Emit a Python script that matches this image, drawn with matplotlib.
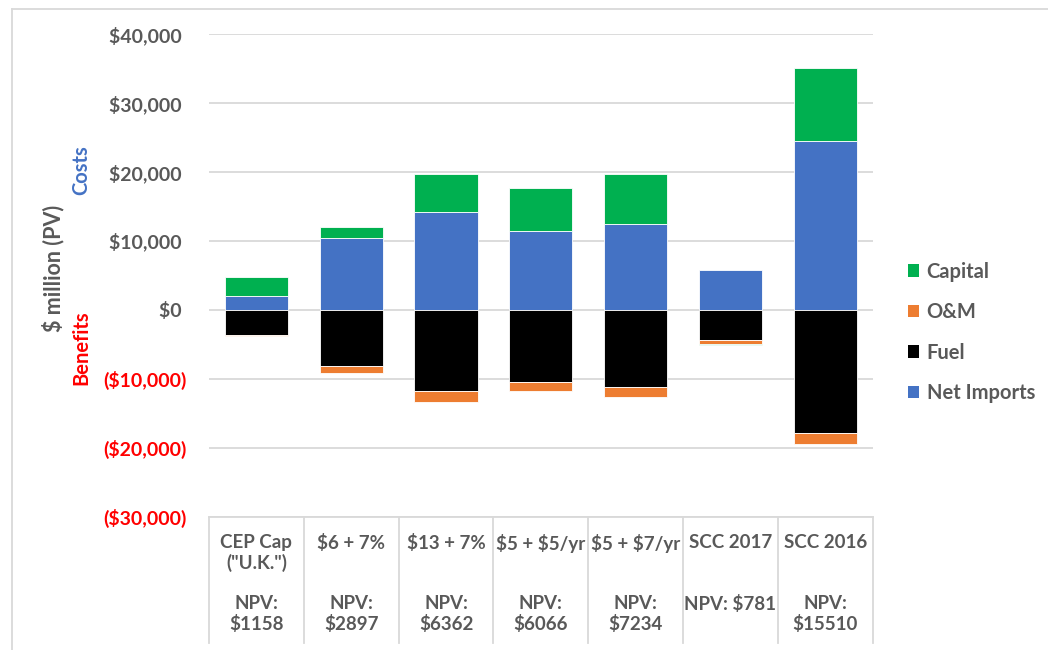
import matplotlib
matplotlib.use("Agg")
import matplotlib.pyplot as plt
import numpy as np
from matplotlib.patches import Patch
from matplotlib.lines import Line2D

plt.rcParams['font.family'] = ['Lato', 'DejaVu Sans']

# Scenarios (top label, NPV label)
scenarios = ['CEP Cap\n("U.K.")', '$6 + 7%', '$13 + 7%', '$5 + $5/yr',
             '$5 + $7/yr', 'SCC 2017', 'SCC 2016']
npv_labels = ['NPV:\n$1158', 'NPV:\n$2897', 'NPV:\n$6362', 'NPV:\n$6066',
              'NPV:\n$7234', 'NPV: $781', 'NPV:\n$15510']

# Present-value components, $ million
net_imports = [2000, 10350, 14200, 11500, 12380, 5750, 24500]
fuel = [-3670, -8150, -11800, -10450, -11200, -4390, -17900]
om = [-60, -970, -1550, -1300, -1400, -530, -1600]
capital = [2800, 1650, 5470, 6180, 7330, -150, 10500]

y_ticks = [-30000, -20000, -10000, 0, 10000, 20000, 30000, 40000]

series = [
    ('Net Imports', net_imports, '#4472C4'),
    ('Fuel', fuel, '#000000'),
    ('O&M', om, '#ED7D31'),
    ('Capital', capital, '#00B050'),
]

GRAY = '#595959'
GRID = '#D9D9D9'

fig = plt.figure(figsize=(10.48, 6.5), dpi=100)
ax = fig.add_axes([0.1994, 0.2051, 0.6333, 0.7426])

x = np.arange(len(scenarios))
pos_base = np.zeros(len(x))
neg_base = np.zeros(len(x))
for name, vals, color in series:
    v = np.array(vals, dtype=float)
    base = np.where(v >= 0, pos_base, neg_base)
    ax.bar(x, v, bottom=base, width=0.665, color=color,
           edgecolor='white', linewidth=0.6, zorder=3, label=name)
    pos_base = np.where(v >= 0, pos_base + v, pos_base)
    neg_base = np.where(v < 0, neg_base + v, neg_base)

ax.set_xlim(-0.5, len(x) - 0.5)
ax.set_ylim(-30000, 40000)
ax.set_yticks(y_ticks)


def money(v):
    if v < 0:
        return f'(${-v:,.0f})'
    return f'${v:,.0f} '


ax.set_yticklabels([money(v) for v in y_ticks])
for lbl, v in zip(ax.get_yticklabels(), y_ticks):
    lbl.set_color('#FF0000' if v < 0 else GRAY)
    lbl.set_fontweight('bold')
    lbl.set_fontsize(14)
ax.tick_params(axis='y', length=0, pad=16)
ax.tick_params(axis='x', length=0, labelbottom=False)
ax.grid(axis='y', color=GRID, linewidth=1.3, zorder=0)
for s in ax.spines.values():
    s.set_visible(False)

# Category table beneath the plot
trans = ax.get_xaxis_transform()
table_bottom = -0.2627
for b in np.arange(-0.5, len(x), 1.0):
    ax.add_line(Line2D([b, b], [0, table_bottom], transform=trans,
                       color=GRID, linewidth=1.3, clip_on=False))
ax.add_line(Line2D([-0.5, len(x) - 0.5], [0, 0], transform=trans,
                   color=GRID, linewidth=1.3, clip_on=False))
for xi, top, bot in zip(x, scenarios, npv_labels):
    ax.text(xi, -0.035, top, transform=trans, ha='center', va='top',
            fontsize=13.5, fontweight='bold', color=GRAY, linespacing=1.2,
            parse_math=False)
    ax.text(xi, -0.162, bot, transform=trans, ha='center', va='top',
            fontsize=13.5, fontweight='bold', color=GRAY, linespacing=1.2,
            parse_math=False)

# Axis titles
ax.text(-0.235, 0.515, '$ million (PV)', transform=ax.transAxes, rotation=90,
        ha='center', va='center', fontsize=15.5, fontweight='bold', color=GRAY,
        parse_math=False)
ax.text(-0.193, 0.718, 'Costs', transform=ax.transAxes, rotation=90,
        ha='center', va='center', fontsize=14.5, fontweight='bold', color='#4472C4')
ax.text(-0.193, 0.35, 'Benefits', transform=ax.transAxes, rotation=90,
        ha='center', va='center', fontsize=14.5, fontweight='bold', color='#FF0000')

# Legend
handles = [Patch(facecolor=c, edgecolor='none', label=n)
           for n, _, c in [series[3], series[2], series[1], series[0]]]
leg = fig.legend(handles=handles, loc='center left',
                 bbox_to_anchor=(0.857, 0.4885), frameon=False,
                 prop={'size': 14.5, 'weight': 'bold'},
                 handlelength=0.56, handleheight=0.56, handletextpad=0.36,
                 labelspacing=1.02, borderpad=0)
for t in leg.get_texts():
    t.set_color(GRAY)

# Chart frame
fig.add_artist(Line2D([0.0115, 0.0115], [0, 0.986], transform=fig.transFigure,
                      color=GRID, linewidth=1.3))
fig.add_artist(Line2D([0.0115, 1.0], [0.986, 0.986], transform=fig.transFigure,
                      color=GRID, linewidth=1.3))

fig.savefig('out.png', dpi=100, facecolor='white')
